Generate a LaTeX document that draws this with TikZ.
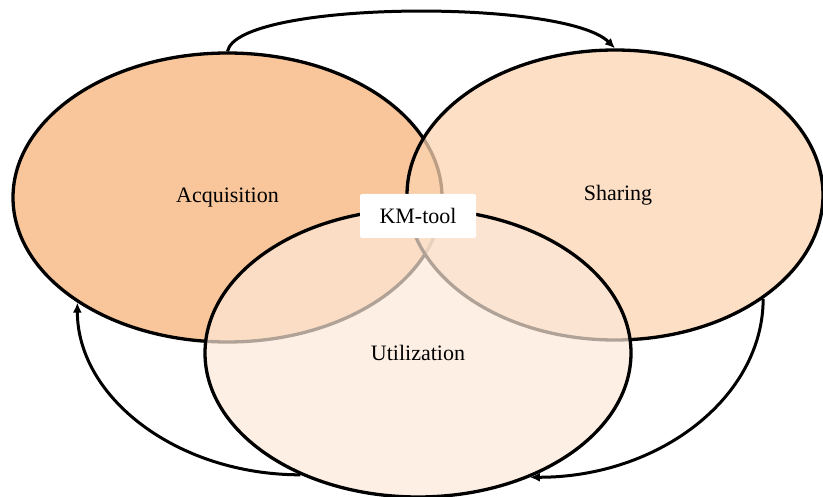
\documentclass[tikz,border=0pt]{standalone}
\usepackage{fontspec}
\setmainfont{Liberation Serif}
\usetikzlibrary{shapes.geometric,arrows.meta}
\definecolor{acqfill}{RGB}{248,198,154}
\definecolor{shfill}{RGB}{251,212,178}
\definecolor{utfill}{RGB}{252,232,215}
\tikzset{
  phase/.style={ellipse, draw=black, line width=3.3pt, inner sep=0pt,
    text=black, text opacity=1, draw opacity=1,
    font=\fontsize{22}{26}\selectfont},
  flow/.style={line width=3pt, -{Latex[length=10pt,width=9pt]}},
  tag/.style={fill=white, rounded corners=2pt, minimum width=116pt,
    minimum height=44pt, inner sep=0pt, font=\fontsize{22}{26}\selectfont}
}
\begin{document}
\begin{tikzpicture}[x=1pt,y=-1pt]
\useasboundingbox (0,0) rectangle (823,497);
% the three overlapping phases
\node[phase, fill=acqfill, minimum width=429pt, minimum height=289pt]
  (acq) at (227.5,197.5) {Acquisition};
\node[phase, fill=shfill, fill opacity=0.75, minimum width=416pt, minimum height=290pt]
  (sh) at (615,195) {\hspace*{6pt}Sharing};
\node[phase, fill=utfill, fill opacity=0.7, minimum width=426pt, minimum height=288pt]
  (ut) at (418,353) {Utilization};
% the cycle between the phases
\draw[flow] (acq.north) .. controls +(10,-51) and +(-50,-50) .. (sh.north);
\draw[flow] (sh.325.5) .. controls +(0,98) and +(130,0) .. (ut.312.6);
\draw[flow] (ut.226) .. controls +(-123,0) and +(0,95) .. (acq.215);
% the label in the middle
\node[tag] (km) at (418,216) {KM-tool};
\end{tikzpicture}
\end{document}
